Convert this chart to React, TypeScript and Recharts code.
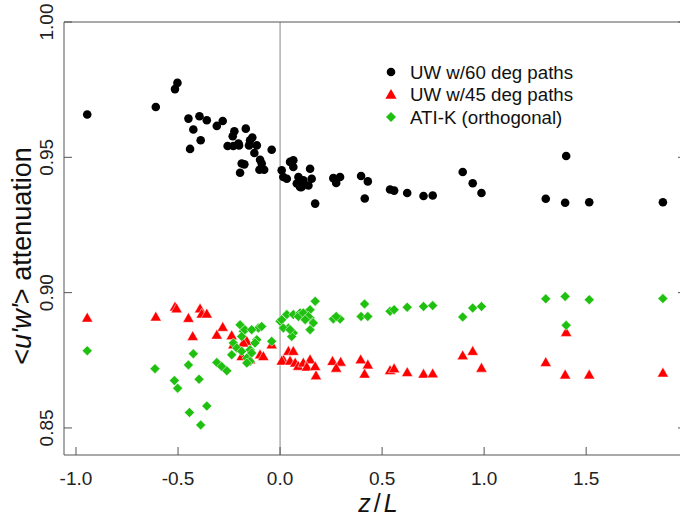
import React from "react";
import { ScatterChart, Scatter, XAxis, YAxis, ReferenceLine, Legend } from "recharts";

// z/L values and attenuation values
const uw60X = [-0.945, -0.609, -0.503, -0.515, -0.449, -0.395, -0.359, -0.31, -0.281, -0.425, -0.389, -0.441, -0.224, -0.232, -0.168, -0.257, -0.229, -0.201, -0.204, -0.147, -0.136, -0.152, -0.126, -0.188, -0.175, -0.196, -0.114, -0.098, -0.09, -0.101, -0.078, -0.041, 0.008, 0.016, 0.033, 0.049, 0.065, 0.065, 0.09, 0.082, 0.098, 0.147, 0.155, 0.139, 0.172, 0.114, 0.106, 0.261, 0.294, 0.275, 0.397, 0.43, 0.415, 0.539, 0.559, 0.623, 0.703, 0.748, 0.895, 0.944, 0.987, 1.302, 1.402, 1.397, 1.515, 1.876];
const uw60Y = [0.9658, 0.9686, 0.9775, 0.9752, 0.9643, 0.9652, 0.9637, 0.9616, 0.9634, 0.9603, 0.9563, 0.9531, 0.9596, 0.9578, 0.9606, 0.9542, 0.9542, 0.9544, 0.9551, 0.9563, 0.9573, 0.9544, 0.9516, 0.9477, 0.9474, 0.9443, 0.9544, 0.9491, 0.9477, 0.9454, 0.9454, 0.9528, 0.9452, 0.9427, 0.9421, 0.9483, 0.9489, 0.9464, 0.9427, 0.9403, 0.939, 0.9458, 0.9421, 0.9396, 0.9329, 0.9415, 0.939, 0.9423, 0.9427, 0.9405, 0.9431, 0.9411, 0.9348, 0.9381, 0.9377, 0.9368, 0.9357, 0.9359, 0.9446, 0.9404, 0.9368, 0.9347, 0.9505, 0.9332, 0.9334, 0.9334];

const uw45X = [-0.945, -0.609, -0.515, -0.507, -0.449, -0.392, -0.384, -0.359, -0.428, -0.281, -0.31, -0.237, -0.229, -0.163, -0.18, -0.188, -0.147, -0.098, -0.082, -0.041, 0.016, 0.008, 0.041, 0.065, 0.049, 0.074, 0.089, 0.114, 0.147, 0.131, 0.172, 0.176, 0.257, 0.297, 0.275, 0.395, 0.43, 0.414, 0.539, 0.559, 0.623, 0.703, 0.748, 0.895, 0.944, 0.987, 1.302, 1.402, 1.397, 1.515, 1.876];
const uw45Y = [0.8906, 0.891, 0.8947, 0.894, 0.8905, 0.894, 0.8921, 0.8921, 0.8838, 0.8872, 0.8843, 0.8841, 0.8807, 0.882, 0.8814, 0.8764, 0.8752, 0.877, 0.8764, 0.8807, 0.8752, 0.8747, 0.8783, 0.8783, 0.8747, 0.874, 0.8728, 0.874, 0.8752, 0.8725, 0.8727, 0.8693, 0.8746, 0.8743, 0.8721, 0.8752, 0.8733, 0.8699, 0.8712, 0.8719, 0.8705, 0.8699, 0.87, 0.8767, 0.8783, 0.8721, 0.8742, 0.8853, 0.8696, 0.8696, 0.8703];

const atiX = [-0.945, -0.613, -0.518, -0.502, -0.449, -0.425, -0.397, -0.359, -0.444, -0.389, -0.31, -0.286, -0.261, -0.196, -0.18, -0.188, -0.229, -0.212, -0.237, -0.188, -0.147, -0.163, -0.147, -0.106, -0.09, -0.114, -0.123, -0.139, -0.041, -0.163, -0.172, -0.139, 0.0, 0.008, 0.033, 0.041, 0.016, 0.065, 0.057, 0.049, 0.065, 0.098, 0.09, 0.131, 0.147, 0.147, 0.172, 0.114, 0.139, 0.163, 0.147, 0.123, 0.261, 0.294, 0.275, 0.414, 0.397, 0.43, 0.539, 0.559, 0.623, 0.703, 0.748, 0.895, 0.944, 0.987, 1.302, 1.397, 1.402, 1.515, 1.876];
const atiY = [0.8785, 0.8719, 0.8675, 0.8647, 0.8733, 0.8774, 0.868, 0.8581, 0.8557, 0.8511, 0.8742, 0.8727, 0.8711, 0.8881, 0.8857, 0.8838, 0.8814, 0.8795, 0.877, 0.8783, 0.8789, 0.8758, 0.8746, 0.8869, 0.8875, 0.8826, 0.8814, 0.8777, 0.882, 0.874, 0.8863, 0.8863, 0.8894, 0.89, 0.8919, 0.8869, 0.8869, 0.8851, 0.8838, 0.8863, 0.8919, 0.8925, 0.8912, 0.8925, 0.8937, 0.8906, 0.8968, 0.8925, 0.8912, 0.8888, 0.8863, 0.89, 0.8903, 0.8903, 0.8912, 0.8958, 0.8912, 0.8912, 0.8931, 0.8937, 0.8946, 0.8949, 0.8952, 0.891, 0.8943, 0.8949, 0.8977, 0.8986, 0.8879, 0.8974, 0.8978];

const seriesNames = ["UW w/60 deg paths", "UW w/45 deg paths", "ATI-K (orthogonal)"];
const xTicks = [-1.0, -0.5, 0.0, 0.5, 1.0, 1.5];
const yTicks = [0.85, 0.9, 0.95, 1.0];

const toPoints = (xs: number[], ys: number[]) => xs.map((x, i) => ({ x, y: ys[i] }));
const uw60 = toPoints(uw60X, uw60Y);
const uw45 = toPoints(uw45X, uw45Y);
const ati = toPoints(atiX, atiY);

const FONT = "'Liberation Sans', Arial, Helvetica, sans-serif";
const AXIS = "#555";
const BLACK = "#000000";
const RED = "#ff0000";
const GREEN = "#20c010";

const Circle = (p: any) => <circle cx={p.cx} cy={p.cy} r={4.3} fill={BLACK} />;
const Tri = (p: any) => (
  <polygon
    points={`${p.cx},${p.cy - 5.8} ${p.cx - 5.6},${p.cy + 4} ${p.cx + 5.6},${p.cy + 4}`}
    fill={RED}
    stroke="#fff"
    strokeWidth={0.5}
  />
);
const Diamond = (p: any) => (
  <polygon
    points={`${p.cx},${p.cy - 5} ${p.cx + 5},${p.cy} ${p.cx},${p.cy + 5} ${p.cx - 5},${p.cy}`}
    fill={GREEN}
    stroke="#fff"
    strokeWidth={0.5}
  />
);

const BottomTick = (p: any) => (
  <g>
    <line x1={p.x} y1={p.y} x2={p.x} y2={p.y - 8} stroke={AXIS} />
    <text x={p.x} y={p.y + 30} textAnchor="middle" fontSize={19} fontFamily={FONT} fill="#222">
      {Number(p.payload.value).toFixed(1)}
    </text>
  </g>
);
const TopTick = (p: any) => <line x1={p.x} y1={p.y} x2={p.x} y2={p.y + 8} stroke={AXIS} />;
const LeftTick = (p: any) => (
  <g>
    <line x1={p.x} y1={p.y} x2={p.x + 8} y2={p.y} stroke={AXIS} />
    <text
      x={p.x - 11}
      y={p.y}
      transform={`rotate(-90 ${p.x - 11} ${p.y})`}
      textAnchor="middle"
      fontSize={19}
      fontFamily={FONT}
      fill="#222"
    >
      {Number(p.payload.value).toFixed(2)}
    </text>
  </g>
);
const RightTick = (p: any) => <line x1={p.x} y1={p.y} x2={p.x - 8} y2={p.y} stroke={AXIS} />;

const LegendBox = () => (
  <svg width={240} height={72} style={{ display: "block" }}>
    <circle cx={11} cy={14} r={4.3} fill={BLACK} />
    <polygon points="11,31 5.4,40.8 16.6,40.8" fill={RED} />
    <polygon points="11,54 16,59 11,64 6,59" fill={GREEN} />
    {seriesNames.map((n, i) => (
      <text key={n} x={30} y={14 + i * 22.5 + 6.6} fontSize={18.7} fontFamily={FONT} fill="#111">
        {n}
      </text>
    ))}
  </svg>
);

export default function App() {
  return (
    <div style={{ position: "absolute", left: 0, top: 0, width: 680, height: 519, overflow: "hidden", background: "#fff" }}>
      <ScatterChart width={690} height={519} margin={{ top: 21, right: 3, bottom: 63, left: 63 }}>
        <XAxis
          type="number"
          dataKey="x"
          domain={[-1.0588, 1.9892]}
          ticks={xTicks}
          allowDataOverflow
          height={1}
          tickSize={0}
          tickMargin={0}
          tick={BottomTick}
          axisLine={{ stroke: AXIS }}
          tickLine={false}
          interval={0}
        />
        <XAxis
          xAxisId="top"
          orientation="top"
          type="number"
          domain={[-1.0588, 1.9892]}
          ticks={xTicks}
          allowDataOverflow
          height={1}
          tickSize={0}
          tickMargin={0}
          tick={TopTick}
          axisLine={{ stroke: AXIS }}
          tickLine={false}
          interval={0}
        />
        <YAxis
          type="number"
          dataKey="y"
          domain={[0.84, 1.0]}
          ticks={yTicks}
          allowDataOverflow
          width={1}
          tickSize={0}
          tickMargin={0}
          tick={LeftTick}
          axisLine={{ stroke: AXIS }}
          tickLine={false}
          interval={0}
        />
        <YAxis
          yAxisId="right"
          orientation="right"
          type="number"
          domain={[0.84, 1.0]}
          ticks={yTicks}
          allowDataOverflow
          width={1}
          tickSize={0}
          tickMargin={0}
          tick={RightTick}
          axisLine={{ stroke: AXIS }}
          tickLine={false}
          interval={0}
        />
        <ReferenceLine x={0} stroke="#888" strokeWidth={1} />
        <Legend
          layout="vertical"
          align="center"
          verticalAlign="middle"
          content={() => <LegendBox />}
          wrapperStyle={{ left: 380, top: 58, width: 240, height: 72 }}
        />
        <Scatter name={seriesNames[0]} data={uw60} shape={Circle} isAnimationActive={false} />
        <Scatter name={seriesNames[1]} data={uw45} shape={Tri} isAnimationActive={false} />
        <Scatter name={seriesNames[2]} data={ati} shape={Diamond} isAnimationActive={false} />
      </ScatterChart>
      <svg width={680} height={519} style={{ position: "absolute", left: 0, top: 0, pointerEvents: "none" }}>
        <text
          x={31}
          y={256}
          transform="rotate(-90 31 256)"
          textAnchor="middle"
          fontSize={27}
          fontFamily={FONT}
          fill="#111"
        >
          {"<"}
          <tspan fontStyle="italic">{"u'w'"}</tspan>
          {"> attenuation"}
        </text>
        <text x={378} y={512} textAnchor="middle" fontSize={25} fontFamily={FONT} fill="#111">
          <tspan fontStyle="italic">z</tspan>
          <tspan dx={3}>/</tspan>
          <tspan dx={3} fontStyle="italic">L</tspan>
        </text>
      </svg>
    </div>
  );
}
